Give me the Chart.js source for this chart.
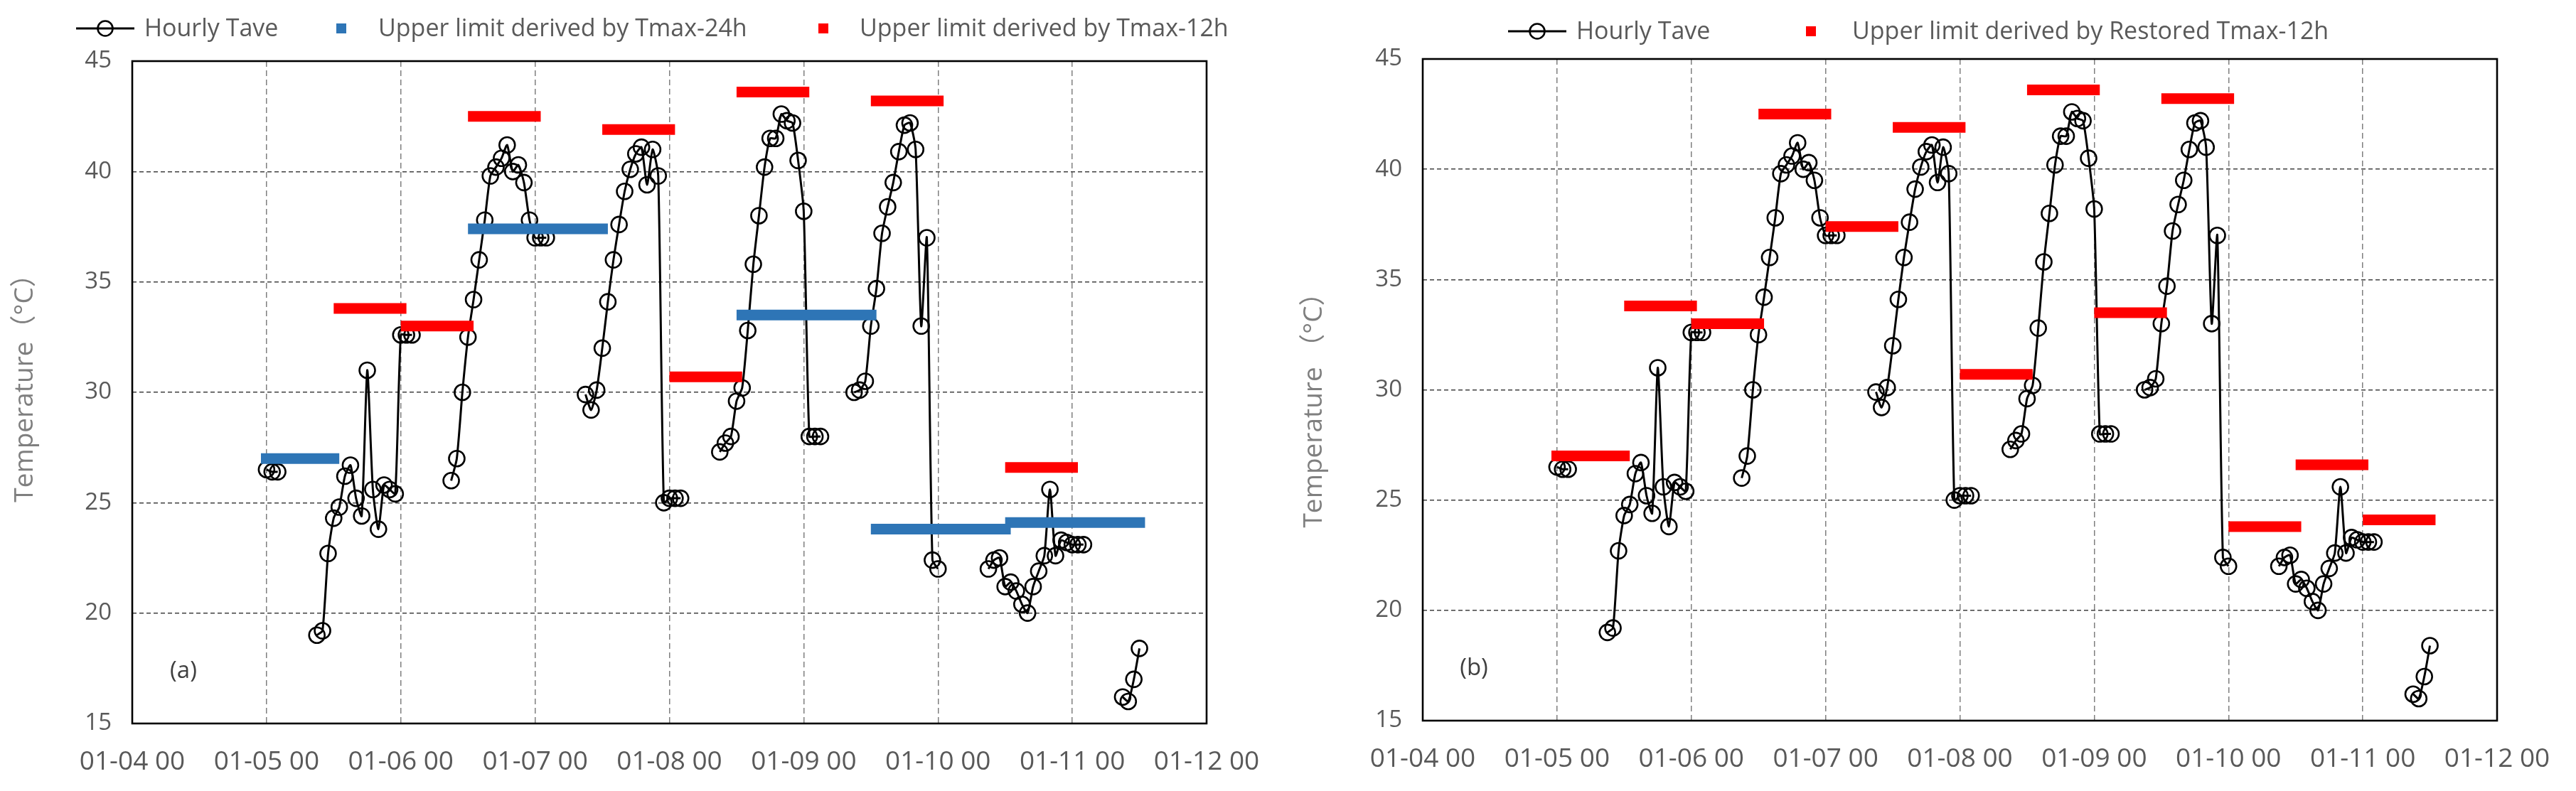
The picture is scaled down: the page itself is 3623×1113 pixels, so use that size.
<!DOCTYPE html>
<html>
<head>
<meta charset="utf-8">
<script src="https://cdn.jsdelivr.net/npm/chart.js@4.4.0/dist/chart.umd.min.js"></script>
<style>
  html, body { margin: 0; padding: 0; background: #fff; }
  body { width: 3623px; height: 1113px; position: relative; overflow: hidden; }
  canvas { position: absolute; top: 0; }
  #chartA { left: 0; }
  #chartB { left: 1811px; }
</style>
</head>
<body>
<canvas id="chartA" width="1811" height="1113"></canvas>
<canvas id="chartB" width="1812" height="1113"></canvas>
<script>
// hours counted from 01-04 00
const taveHours = [
  24, 25, 26,
  33, 34, 35, 36, 37, 38, 39, 40, 41, 42, 43, 44, 45, 46, 47, 48, 49, 50,
  57, 58, 59, 60, 61, 62, 63, 64, 65, 66, 67, 68, 69, 70, 71, 72, 73, 74,
  81, 82, 83, 84, 85, 86, 87, 88, 89, 90, 91, 92, 93, 94, 95, 96, 97, 98,
  105, 106, 107, 108, 109, 110, 111, 112, 113, 114, 115, 116, 117, 118, 119, 120, 121, 122, 123,
  129, 130, 131, 132, 133, 134, 135, 136, 137, 138, 139, 140, 141, 142, 143, 144,
  153, 154, 155, 156, 157, 158, 159, 160, 161, 162, 163, 164, 165, 166, 167, 168, 169, 170,
  177, 178, 179, 180
];
const taveValues = [
  26.5, 26.4, 26.4,
  19.0, 19.2, 22.7, 24.3, 24.8, 26.2, 26.7, 25.2, 24.4, 31.0, 25.6, 23.8, 25.8, 25.6, 25.4, 32.6, 32.6, 32.6,
  26.0, 27.0, 30.0, 32.5, 34.2, 36.0, 37.8, 39.8, 40.2, 40.6, 41.2, 40.0, 40.3, 39.5, 37.8, 37.0, 37.0, 37.0,
  29.9, 29.2, 30.1, 32.0, 34.1, 36.0, 37.6, 39.1, 40.1, 40.8, 41.1, 39.4, 41.0, 39.8, 25.0, 25.2, 25.2, 25.2,
  27.3, 27.7, 28.0, 29.6, 30.2, 32.8, 35.8, 38.0, 40.2, 41.5, 41.5, 42.6, 42.3, 42.2, 40.5, 38.2, 28.0, 28.0, 28.0,
  30.0, 30.1, 30.5, 33.0, 34.7, 37.2, 38.4, 39.5, 40.9, 42.1, 42.2, 41.0, 33.0, 37.0, 22.4, 22.0,
  22.0, 22.4, 22.5, 21.2, 21.4, 21.0, 20.4, 20.0, 21.2, 21.9, 22.6, 25.6, 22.6, 23.3, 23.2, 23.1, 23.1, 23.1,
  16.2, 16.0, 17.0, 18.4
];

// (a) upper limit by Tmax-24h
const blue24Start = [23, 60, 108, 132, 156];
const blue24End   = [37, 85, 133, 157, 181];
const blue24Value = [27.0, 37.4, 33.5, 23.8, 24.1];

// (a) upper limit by Tmax-12h
const red12Start = [36, 48, 60, 84, 96, 108, 132, 156];
const red12End   = [49, 61, 73, 97, 109, 121, 145, 169];
const red12Value = [33.8, 33.0, 42.5, 41.9, 30.7, 43.6, 43.2, 26.6];

// (b) upper limit by restored Tmax-12h
const restStart = [23, 36, 48, 60, 72, 84, 96, 108, 120, 132, 144, 156, 168];
const restEnd   = [37, 49, 61, 73, 85, 97, 109, 121, 133, 145, 157, 169, 181];
const restValue = [27.0, 33.8, 33.0, 42.5, 37.4, 41.9, 30.7, 43.6, 33.5, 43.2, 23.8, 26.6, 24.1];

const yTicks = [15, 20, 25, 30, 35, 40, 45];
const dayLabels = ['01-04 00', '01-05 00', '01-06 00', '01-07 00', '01-08 00', '01-09 00', '01-10 00', '01-11 00', '01-12 00'];

const FONT = "'Open Sans', 'Noto Sans CJK SC', sans-serif";
const BLUE = '#2E75B6';
const RED = '#FF0000';
const GREY = '#595959';

function taveData() {
    let pts = [];
    for (let i = 0; i < taveHours.length; i++) {
        if (i > 0 && taveHours[i] - taveHours[i - 1] > 1) {
            pts.push({x: taveHours[i - 1] + 1, y: null});
        }
        pts.push({x: taveHours[i], y: taveValues[i]});
    }
    return pts;
}

function barSets(starts, ends, values, color) {
    return starts.map((s, i) => ({
        data: [{x: s, y: values[i]}, {x: ends[i], y: values[i]}],
        borderColor: color,
        borderWidth: 15,
        borderCapStyle: 'butt',
        pointRadius: 0,
        tension: 0,
        order: 1
    }));
}

// frame, panel tag, axis title and legend
const decor = {
    id: 'decor',
    afterDatasetsDraw(chart, args, opts) {
        const {ctx, chartArea: a} = chart;
        ctx.save();
        ctx.strokeStyle = '#000';
        ctx.lineWidth = 2.6;
        ctx.strokeRect(a.left, a.top, a.right - a.left, a.bottom - a.top);

        ctx.fillStyle = '#404040';
        ctx.font = '33px ' + FONT;
        ctx.textAlign = 'center';
        ctx.textBaseline = 'middle';
        ctx.fillText(opts.tag, a.left + 72, a.bottom - 73);

        // y axis title
        ctx.save();
        ctx.translate(opts.titleX, opts.titleY);
        ctx.rotate(-Math.PI / 2);
        ctx.fillStyle = '#7f7f7f';
        ctx.font = '37px ' + FONT;
        ctx.fillText(opts.title, 0, 0);
        ctx.restore();

        ctx.font = '34px ' + FONT;
        ctx.textAlign = 'left';
        for (let it of opts.items) {
            let y = opts.y;
            if (it.type === 'line') {
                ctx.strokeStyle = '#000';
                ctx.lineWidth = 3;
                ctx.beginPath();
                ctx.moveTo(it.cx - 41, y);
                ctx.lineTo(it.cx + 41, y);
                ctx.stroke();
                ctx.lineWidth = 2.6;
                ctx.beginPath();
                ctx.arc(it.cx, y, 10.5, 0, Math.PI * 2);
                ctx.stroke();
            } else {
                ctx.fillStyle = it.color;
                ctx.fillRect(it.cx - 7, y - 7, 14, 14);
            }
            ctx.fillStyle = GREY;
            ctx.fillText(it.text, it.tx, y + 1);
        }
        ctx.restore();
    }
};

function makeChart(id, area, bars, decorOpts) {
    const el = document.getElementById(id);
    const W = el.width, H = el.height;
    return new Chart(el, {
        type: 'line',
        data: {
            datasets: [{
                label: 'Hourly Tave',
                data: taveData(),
                borderColor: '#000',
                borderWidth: 3,
                tension: 0.2,
                spanGaps: false,
                pointRadius: 11,
                pointBorderWidth: 2.6,
                pointBorderColor: '#000',
                pointBackgroundColor: 'rgba(0,0,0,0)',
                order: 2
            }].concat(bars)
        },
        options: {
            responsive: false,
            animation: false,
            devicePixelRatio: 1,
            events: [],
            layout: {padding: {left: 0, top: area.top, right: W - area.right, bottom: 0}},
            plugins: {
                legend: {display: false},
                tooltip: {enabled: false},
                decor: decorOpts
            },
            scales: {
                x: {
                    type: 'linear',
                    min: 0,
                    max: 192,
                    afterFit: s => { s.height = H - area.bottom; },
                    afterBuildTicks: s => { s.ticks = dayLabels.map((t, i) => ({value: i * 24})); },
                    ticks: {
                        autoSkip: false,
                        maxRotation: 0,
                        padding: 32,
                        color: GREY,
                        font: {family: FONT, size: 37, lineHeight: 1.2},
                        callback: (v, i) => dayLabels[i]
                    },
                    grid: {color: '#7f7f7f', lineWidth: 1.5, drawTicks: false},
                    border: {display: false, dash: [8, 5]}
                },
                y: {
                    min: 15,
                    max: 45,
                    afterFit: s => { s.width = area.left; },
                    afterBuildTicks: s => { s.ticks = yTicks.map(v => ({value: v})); },
                    ticks: {
                        padding: 29,
                        color: GREY,
                        font: {family: FONT, size: 33}
                    },
                    grid: {color: '#404040', lineWidth: 1.4, drawTicks: false},
                    border: {display: false, dash: [6, 4]}
                }
            }
        },
        plugins: [decor]
    });
}

makeChart('chartA', {left: 186, right: 1697, top: 86, bottom: 1018},
    barSets(blue24Start, blue24End, blue24Value, BLUE).concat(barSets(red12Start, red12End, red12Value, RED)),
    {
        tag: '(a)',
        title: 'Temperature\uFF08\u00B0C\uFF09',
        titleX: 35,
        titleY: 537,
        y: 40,
        items: [
            {type: 'line', cx: 148, tx: 203, text: 'Hourly Tave'},
            {type: 'square', color: BLUE, cx: 480, tx: 532, text: 'Upper limit derived by Tmax-24h'},
            {type: 'square', color: RED, cx: 1158, tx: 1209, text: 'Upper limit derived by Tmax-12h'}
        ]
    });

makeChart('chartB', {left: 190, right: 1701, top: 83, bottom: 1014},
    barSets(restStart, restEnd, restValue, RED),
    {
        tag: '(b)',
        title: 'Temperature \uFF08\u00B0C\uFF09',
        titleX: 37,
        titleY: 568,
        y: 44,
        items: [
            {type: 'line', cx: 351, tx: 406, text: 'Hourly Tave'},
            {type: 'square', color: RED, cx: 736, tx: 794, text: 'Upper limit derived by Restored Tmax-12h'}
        ]
    });
</script>
</body>
</html>
